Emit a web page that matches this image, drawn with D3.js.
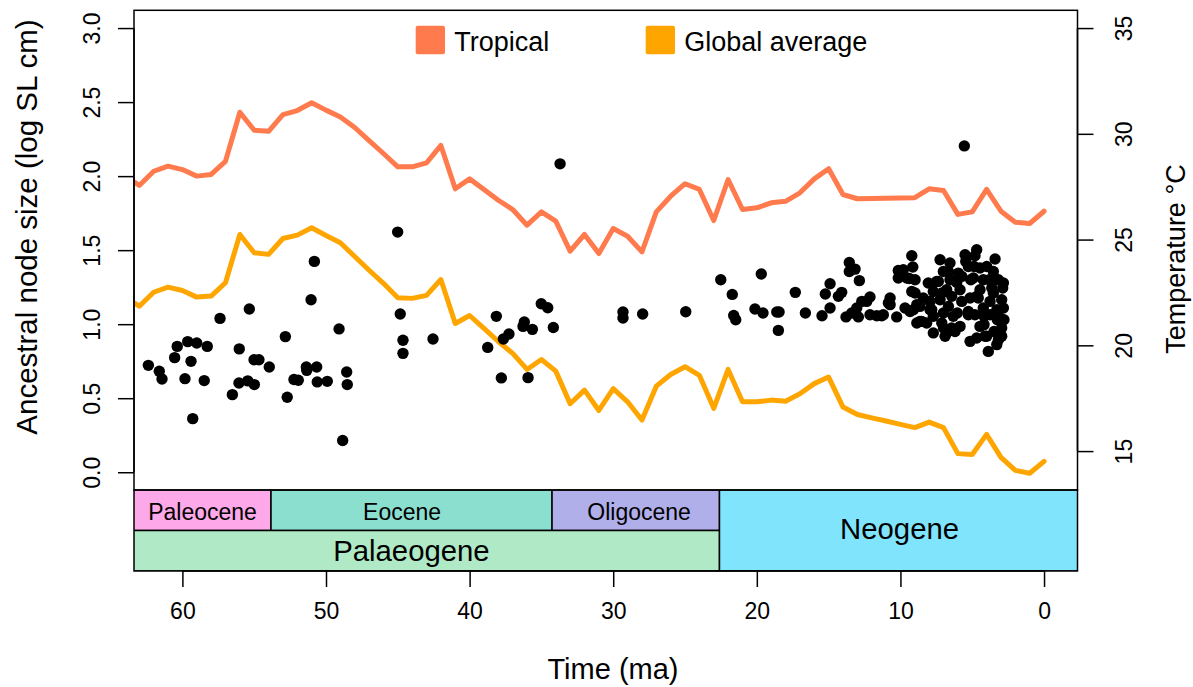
<!DOCTYPE html>
<html>
<head>
<meta charset="utf-8">
<script src="https://cdn.jsdelivr.net/npm/d3@7"></script>
<style>
  html, body { margin: 0; padding: 0; background: #fff; }
  svg { display: block; font-family: "Liberation Sans", Arial, Helvetica, sans-serif; }
</style>
</head>
<body>
<svg id="chart" width="1193" height="687"></svg>
<script>
// ---------------- DATA ----------------
// Temperature curves (time in Ma, temperature in °C)
const tempTime = [64,63,62,61,60,59,58,57,56,55,54,53,52,51,50,49,48,47,46,45,44,43,42,41,40,39,38,37,36,35,34,33,32,31,30,29,28,27,26,25,24,23,22,21,20,19,18,17,16,15,14,13,12,11,10,9,8,7,6,5,4,3,2,1,0];
const tropicalTemp = [28.0,27.56,28.23,28.47,28.31,28.0,28.08,28.7,31.02,30.17,30.12,30.91,31.1,31.47,31.12,30.8,30.3,29.68,29.07,28.44,28.44,28.63,29.45,27.4,27.87,27.37,26.86,26.42,25.68,26.31,25.87,24.45,25.24,24.34,25.52,25.16,24.42,26.31,27.05,27.64,27.37,25.9,27.84,26.42,26.5,26.74,26.81,27.21,27.87,28.35,27.13,26.93,26.94,26.95,26.97,26.98,27.4,27.32,26.19,26.31,27.37,26.34,25.82,25.76,26.34];
const globalTemp = [22.28,21.85,22.51,22.75,22.59,22.28,22.33,22.96,25.24,24.38,24.3,25.05,25.21,25.56,25.19,24.85,24.2,23.55,22.93,22.25,22.22,22.36,23.11,21.03,21.41,20.8,20.18,19.62,18.86,19.33,18.78,17.24,17.88,16.92,17.95,17.33,16.47,18.07,18.62,18.99,18.58,17.02,18.86,17.33,17.33,17.41,17.36,17.71,18.19,18.5,17.08,16.73,16.57,16.42,16.26,16.11,16.37,16.11,14.88,14.84,15.79,14.7,14.09,13.95,14.51];

// Ancestral nodes: age (Ma) and size (log SL cm)
const nodeAge = [50.81,51.04,55.34,57.38,49.09,52.83,60.36,59.63,59.00,58.27,60.54,59.40,56.04,55.01,54.67,53.95,62.37,61.61,61.42,59.82,58.48,56.06,55.45,54.99,56.52,52.70,52.23,51.93,51.37,51.34,50.65,50.61,49.91,48.56,48.52,59.28,48.84,
  33.70,45.01,44.83,44.64,44.64,42.55,38.14,38.74,37.65,37.26,36.19,36.28,35.63,35.01,34.56,34.17,37.79,35.93,
  29.32,29.32,27.95,24.95,22.51,21.71,21.61,21.47,19.69,20.13,19.57,18.61,18.45,18.50,17.32,16.62,15.46,15.23,14.90,14.90,
  13.56,13.16,13.56,12.86,14.09,14.32,13.79,13.39,13.04,12.69,12.12,12.93,12.12,11.65,11.30,10.72,10.72,10.26,10.15,10.15,12.35,11.19,
  5.55,9.21,7.24,6.55,5.50,4.69,3.41,9.80,9.14,9.56,8.98,7.01,5.97,5.27,4.46,3.99,3.53,8.06,7.36,6.55,5.73,4.92,4.23,3.18,2.83,
  9.21,7.71,6.78,5.85,4.46,3.64,10.84,8.41,7.24,6.43,5.15,4.58,2.95,9.68,8.86,7.94,6.66,5.73,4.23,2.83,9.33,8.64,7.71,6.32,5.27,3.76,3.06,
  8.17,7.12,6.43,5.85,7.71,6.78,4.46,2.95,4.69,3.99,3.18,5.15,3.88,3.29,
  2.79,2.88,2.95,3.48,4.11,4.18,4.18,3.76,3.53,3.29,3.25,3.81,4.69,4.81,4.81,4.87,5.10,5.27,5.45,6.04,6.08,6.20,6.66,6.89,7.00,7.01,7.12,7.47,7.82,7.94,8.52,8.86,8.64,8.98,9.10,9.38];
const nodeSize = [1.424,1.165,1.103,1.039,0.968,0.916,0.850,0.882,0.873,0.850,0.774,0.749,0.833,0.760,0.760,0.711,0.722,0.682,0.630,0.632,0.619,0.603,0.617,0.592,0.524,0.506,0.626,0.621,0.711,0.688,0.711,0.610,0.614,0.677,0.592,0.362,0.214,
  2.083,1.622,1.069,0.891,0.803,0.900,1.053,0.843,0.900,0.934,1.015,0.985,0.965,1.138,1.111,0.978,0.637,0.639,
  1.082,1.042,1.069,1.084,1.300,1.201,1.059,1.030,1.339,1.103,1.076,1.082,1.082,0.958,1.215,1.076,1.057,1.204,1.273,1.109,
  1.417,1.372,1.356,1.294,1.215,1.188,1.049,1.076,1.109,1.154,1.184,1.049,1.064,1.057,1.057,1.177,1.132,1.049,1.312,1.363,1.154,1.064,
  2.204,1.462,1.435,1.413,1.469,1.503,1.440,1.368,1.386,1.312,1.300,1.356,1.345,1.390,1.379,1.390,1.356,1.278,1.289,1.300,1.323,1.312,1.300,1.300,1.278,
  1.221,1.221,1.233,1.233,1.233,1.244,1.143,1.177,1.165,1.188,1.177,1.177,1.165,1.109,1.132,1.098,1.120,1.154,1.109,1.109,1.086,1.019,1.053,1.053,1.064,1.064,1.042,
  1.008,1.008,0.974,0.985,0.941,0.941,0.985,0.974,0.907,0.918,0.895,0.884,0.816,0.862,
  1.030,1.244,0.918,0.951,0.918,1.053,0.997,1.154,1.211,1.098,1.030,1.300,1.188,1.064,1.462,1.390,1.300,1.086,1.424,1.076,1.282,0.951,1.356,0.918,0.974,1.076,1.211,1.289,1.098,1.154,1.019,1.008,1.120,1.211,1.098,1.309];

// Geological time scale
const epochNames = ["Paleocene","Eocene","Oligocene"];
const epochStart = [66, 53.83, 34.26];
const epochEnd   = [53.83, 34.26, 22.6];
const epochLabelAt = [58.6, 44.7, 28.2];
const epochColors = ["#FDA9E9","#8ADFCF","#B0AFEA"];
const periodNames = ["Palaeogene","Neogene"];
const periodStart = [66, 22.6];
const periodEnd   = [22.6, -5];
const periodLabelAt = [44.05, 10.06];
const periodColors = ["#AFE9C6","#80E4FD"];

const timeTicks = [60,50,40,30,20,10,0];
const sizeTicks = [0,0.5,1,1.5,2,2.5,3];
const tempTicks = [15,20,25,30,35];
const seriesNames = ["Tropical","Global average"];
const seriesColors = ["#FF7A4D","#FFA500"];

// ---------------- LAYOUT ----------------
const svg = d3.select("#chart");
const L = 134, R = 1077.5, T = 10.3, B = 490;
const scaleBottom = 571, scaleMid = 530.5;

const x = d3.scaleLinear().domain([63.37, -2.33]).range([L, R]);
const yL = d3.scaleLinear().domain([-0.12, 3.12]).range([B, T]);
const yR = d3.scaleLinear().domain([13.16, 35.84]).range([B, T]);

svg.append("defs").append("clipPath").attr("id","plotclip")
  .append("rect").attr("x", L).attr("y", T).attr("width", R - L).attr("height", B - T);
svg.append("defs").append("clipPath").attr("id","scaleclip")
  .append("rect").attr("x", L).attr("y", B).attr("width", R - L).attr("height", scaleBottom - B);

// Temperature lines
const plotG = svg.append("g").attr("clip-path", "url(#plotclip)");
[tropicalTemp, globalTemp].forEach((vals, i) => {
  const line = d3.line().x((d, j) => x(tempTime[j])).y(d => yR(d));
  plotG.append("path").datum(vals)
    .attr("d", line)
    .attr("fill", "none")
    .attr("stroke", seriesColors[i])
    .attr("stroke-width", 5)
    .attr("stroke-linejoin", "round")
    .attr("stroke-linecap", "round");
});

// Points
plotG.selectAll("circle.node").data(nodeAge.map((a, i) => [a, nodeSize[i]]))
  .enter().append("circle")
  .attr("class", "node")
  .attr("cx", d => x(d[0]))
  .attr("cy", d => yL(d[1]))
  .attr("r", 5.7)
  .attr("fill", "#000");

// Plot box
svg.append("rect").attr("x", L).attr("y", T).attr("width", R - L).attr("height", B - T)
  .attr("fill", "none").attr("stroke", "#000").attr("stroke-width", 1.5);

// Legend
const legX = [415.7, 645.7];
seriesNames.forEach((n, i) => {
  svg.append("rect").attr("x", legX[i]).attr("y", 25.7).attr("width", 29.3).attr("height", 28.6)
    .attr("rx", 2).attr("fill", seriesColors[i]);
  svg.append("text").attr("x", legX[i] + 38.5).attr("y", 50.5)
    .attr("font-size", 27).attr("fill", "#000").text(n);
});

// Time scale panel
const sg = svg.append("g").attr("clip-path", "url(#scaleclip)");
epochNames.forEach((n, i) => {
  sg.append("rect").attr("x", x(epochStart[i])).attr("y", B)
    .attr("width", x(epochEnd[i]) - x(epochStart[i])).attr("height", scaleMid - B)
    .attr("fill", epochColors[i]).attr("stroke", "#000").attr("stroke-width", 1.5);
});
periodNames.forEach((n, i) => {
  const y0 = i === 0 ? scaleMid : B;
  sg.append("rect").attr("x", x(periodStart[i])).attr("y", y0)
    .attr("width", x(periodEnd[i]) - x(periodStart[i])).attr("height", scaleBottom - y0)
    .attr("fill", periodColors[i]).attr("stroke", "#000").attr("stroke-width", 1.5);
});
epochNames.forEach((n, i) => {
  svg.append("text").attr("x", x(epochLabelAt[i])).attr("y", 519.5)
    .attr("text-anchor", "middle").attr("font-size", 23).text(n);
});
periodNames.forEach((n, i) => {
  svg.append("text").attr("x", x(periodLabelAt[i])).attr("y", i === 0 ? 561 : 539)
    .attr("text-anchor", "middle").attr("font-size", 29.3).text(n);
});
svg.append("rect").attr("x", L).attr("y", B).attr("width", R - L).attr("height", scaleBottom - B)
  .attr("fill", "none").attr("stroke", "#000").attr("stroke-width", 1.5);

// Bottom axis
const xAxis = d3.axisBottom(x).tickValues(timeTicks).tickSize(16).tickPadding(0).tickFormat(d3.format("d"));
const gx = svg.append("g").attr("transform", `translate(0,${scaleBottom})`).call(xAxis);
gx.select(".domain").attr("d", `M${x(60)},0H${x(0)}`).attr("stroke-width", 1.5);
gx.selectAll(".tick line").attr("stroke-width", 1.5);
gx.selectAll(".tick text").attr("font-size", 23).attr("font-family", null).attr("dy", null).attr("y", 48);

// Left axis
const yAxisL = d3.axisLeft(yL).tickValues(sizeTicks).tickSize(16).tickFormat(d3.format(".1f"));
const gl = svg.append("g").attr("transform", `translate(${L},0)`).call(yAxisL);
gl.select(".domain").attr("d", `M0,${yL(0)}V${yL(3)}`).attr("stroke-width", 1.5);
gl.selectAll(".tick line").attr("stroke-width", 1.5);
gl.selectAll(".tick text").attr("font-size", 23).attr("font-family", null)
  .attr("x", null).attr("dy", null).attr("text-anchor", "middle")
  .attr("transform", "translate(-34,0) rotate(-90)");

// Right axis
const yAxisR = d3.axisRight(yR).tickValues(tempTicks).tickSize(16).tickFormat(d3.format("d"));
const gr = svg.append("g").attr("transform", `translate(${R},0)`).call(yAxisR);
gr.select(".domain").attr("d", `M0,${yR(15)}V${yR(35)}`).attr("stroke-width", 1.5);
gr.selectAll(".tick line").attr("stroke-width", 1.5);
gr.selectAll(".tick text").attr("font-size", 23).attr("font-family", null)
  .attr("x", null).attr("dy", null).attr("text-anchor", "middle")
  .attr("transform", "translate(54,0) rotate(-90)");

svg.selectAll(".tick text").attr("fill", "#000");
svg.selectAll(".tick line, .domain").attr("stroke", "#000");

// Axis titles
svg.append("text").attr("x", 613).attr("y", 679).attr("text-anchor", "middle")
  .attr("font-size", 29).text("Time (ma)");
svg.append("text").attr("transform", "translate(36.5,227) rotate(-90)")
  .attr("text-anchor", "middle").attr("font-size", 29.5).text("Ancestral node size (log SL cm)");
svg.append("text").attr("transform", "translate(1185,259) rotate(-90)")
  .attr("text-anchor", "middle").attr("font-size", 27).text("Temperature °C");
</script>
</body>
</html>
